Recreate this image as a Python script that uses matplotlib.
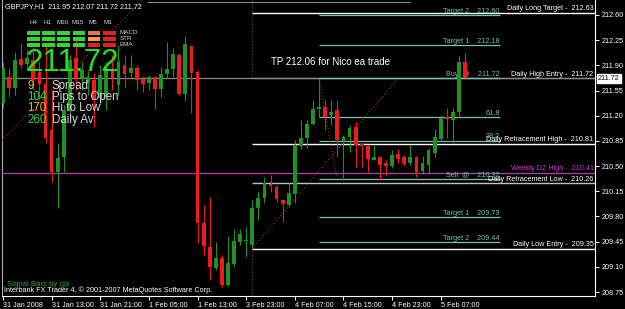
import numpy as np
import matplotlib
matplotlib.use('Agg')
import matplotlib.pyplot as plt
from matplotlib.patches import Rectangle

plt.rcParams['font.family'] = ['Liberation Sans', 'DejaVu Sans']

# Velas H1 de GBPJPY, barra 0 = 31 Jan 05:00
opens = [211.38, 211.74, 211.59, 211.99, 211.92, 211.97, 211.81, 211.64, 211.00, 210.42,
         210.63, 211.28, 212.00, 211.72, 211.65, 211.70, 211.45, 211.46, 211.84, 211.63,
         211.90, 211.79, 211.86, 211.71, 211.65, 211.74, 211.57, 211.78, 211.85, 212.04,
         211.50, 212.17, 211.81, 209.71, 209.38, 209.08, 209.22, 208.85, 209.14, 209.45,
         209.46, 209.40, 209.92, 210.06, 210.25, 210.21, 210.03, 209.96, 210.11, 210.78,
         210.89, 211.08, 211.29, 211.32, 211.21, 211.28, 210.85, 210.90, 211.04, 210.81,
         210.78, 210.58, 210.63, 210.54, 210.50, 210.67, 210.63, 210.54, 210.63, 210.43,
         210.52, 210.68, 210.88, 211.18, 211.14, 211.25, 211.95]
highs = [211.95, 211.86, 212.09, 212.21, 212.11, 212.16, 211.95, 212.18, 211.56, 210.82,
         211.35, 212.04, 212.31, 211.95, 211.84, 211.79, 211.90, 211.95, 212.04, 212.18,
         212.04, 212.04, 211.90, 211.75, 211.77, 211.75, 211.88, 212.22, 212.14, 212.07,
         212.31, 212.18, 211.84, 209.96, 210.07, 209.45, 209.26, 209.53, 209.63, 209.63,
         209.65, 210.03, 210.14, 210.35, 210.38, 210.24, 210.04, 210.27, 210.86, 211.14,
         211.14, 211.42, 211.71, 211.42, 211.42, 211.42, 210.93, 211.07, 211.11, 210.82,
         210.79, 210.79, 210.64, 210.58, 210.72, 210.74, 210.65, 210.79, 210.64, 210.64,
         210.75, 211.02, 211.21, 211.31, 211.31, 212.03, 212.07]
lows = [211.31, 211.46, 211.49, 211.86, 211.84, 211.56, 211.42, 210.82, 210.28, 209.92,
        210.42, 211.17, 211.56, 211.56, 211.49, 211.04, 211.35, 211.28, 211.56, 211.49,
        211.60, 211.74, 211.56, 211.53, 211.56, 211.29, 211.46, 211.72, 211.74, 211.49,
        211.40, 211.24, 209.43, 209.26, 208.92, 209.06, 208.82, 208.83, 209.10, 209.40,
        209.24, 209.35, 209.75, 209.99, 210.14, 210.00, 209.72, 209.93, 209.99, 210.74,
        210.75, 211.07, 211.18, 211.00, 211.07, 210.63, 210.31, 210.70, 210.49, 210.49,
        210.42, 210.58, 210.31, 210.36, 210.47, 210.54, 210.50, 210.52, 210.35, 210.39,
        210.39, 210.63, 210.85, 210.89, 210.82, 211.17, 211.72]
closes = [211.86, 211.59, 211.97, 211.90, 212.00, 211.70, 211.64, 210.89, 210.42, 210.61,
          211.28, 211.97, 211.72, 211.84, 211.74, 211.42, 211.77, 211.84, 211.72, 211.95,
          211.78, 211.86, 211.70, 211.64, 211.74, 211.57, 211.78, 211.85, 212.06, 211.50,
          212.20, 211.79, 209.71, 209.39, 209.10, 209.22, 208.85, 209.15, 209.46, 209.56,
          209.47, 209.92, 210.06, 210.27, 210.22, 210.04, 209.97, 210.13, 210.79, 210.89,
          211.08, 211.29, 211.32, 211.18, 211.25, 210.86, 210.90, 211.03, 210.79, 210.78,
          210.60, 210.63, 210.52, 210.50, 210.65, 210.60, 210.53, 210.63, 210.42, 210.54,
          210.72, 210.90, 211.17, 211.15, 211.25, 211.95, 211.72]

time_ticks = [0, 8, 16, 24, 32, 40, 48, 56, 64, 72]
time_labels = ['31 Jan 2008', '31 Jan 13:00', '31 Jan 21:00', '1 Feb 05:00', '1 Feb 13:00',
               '3 Feb 23:00', '4 Feb 07:00', '4 Feb 15:00', '4 Feb 23:00', '5 Feb 07:00']
price_ticks = [212.60, 212.25, 211.90, 211.55, 211.20, 210.85, 210.50, 210.15,
               209.80, 209.45, 209.10, 208.75]

# Niveles diarios (empiezan en la barra 41 = 4 Feb 00:00)
daily_names = ['Daily Long Target', 'Daily High Entry', 'Daily Retracement High',
               'Weekly DZ High', 'Daily Retracement Low', 'Daily Low Entry']
daily_prices = [212.63, 211.72, 210.81, 210.41, 210.26, 209.35]

# Niveles de la operacion (desde la barra 52)
trade_names = ['Target 2', 'Target 1', 'Buy  @', '61.8', '38.2', 'Sell  @', 'Target 1', 'Target 2']
trade_prices = [212.60, 212.18, 211.72, 211.18, 210.85, 210.32, 209.79, 209.44]

# Lineas de tendencia punteadas (barra, precio)
trend_lines = [((-0.2, 210.86), (23.0, 212.81)),
               ((41.0, 209.35), (64.8, 211.70)),
               ((52.0, 211.71), (54.9, 210.35))]

# Panel Signal Bars
signal_tf = ['H4', 'H1', 'M30', 'M15', 'M5', 'M1']
signal_rows = ['MACD', 'STR', 'EMA']
signal_state = [['up', 'up', 'up', 'up', 'weak', 'down'],
                ['up', 'up', 'up', 'up', 'flat', 'down'],
                ['up', 'up', 'up', 'up', 'down', 'down']]
info_values = [9, 104, 170, 260]
info_names = ['Spread', 'Pips to Open', 'Hi to Low', 'Daily Av']

GREEN = '#1f921f'
RED = '#ee1c1c'
TEAL = '#74c2b2'
DOTS = '#9a3b3b'
state_col = {'up': '#33d633', 'weak': '#e2705c', 'flat': '#eea52c', 'down': '#e22222'}
FS = 5.2

fig = plt.figure(figsize=(6.25, 3.09), dpi=100, facecolor='black')
ax = fig.add_axes([2 / 625, 13 / 309, 593 / 625, 296 / 309], facecolor='black')
x0, x1 = -0.16, 97.37
y0, y1 = 208.695, 212.808
ax.set_xlim(x0, x1)
ax.set_ylim(y0, y1)

o, h, l, c = map(np.array, (opens, highs, lows, closes))
x = np.arange(len(o))
col = np.where(c >= o, GREEN, RED)

# velas
ax.vlines(x, l, h, colors=col, lw=0.8, zorder=5)
ax.bar(x, np.maximum(np.abs(c - o), 0.012), bottom=np.minimum(o, c), width=0.62,
       color=col, linewidth=0, zorder=6)

# linea gris superior y separador vertical punteado
ax.hlines(212.78, 23.7, 67, color='#8a8a8a', lw=0.8, zorder=2)
ax.vlines(41, 211.72, y1, color=DOTS, lw=0.8, linestyle=(0, (1, 2)), zorder=2)
ax.vlines(41, y0, 209.35, color=DOTS, lw=0.8, linestyle=(0, (1, 2)), zorder=2)
for (xa, ya), (xb, yb) in trend_lines:
    ax.plot([xa, xb], [ya, yb], color=DOTS, lw=0.8, linestyle=(0, (1, 2)), zorder=4)

# niveles diarios
line_cols = ['white', '#8a8a8a', 'white', '#a040a0', '#c0c0c0', 'white']
for name, p, lc in zip(daily_names, daily_prices, line_cols):
    if name == 'Weekly DZ High':
        ax.axhline(p, color=lc, lw=1.0, zorder=3)
        tc = '#c83cc8'
    else:
        ax.hlines(p, 41, x1, color=lc, lw=1.0, zorder=3)
        tc = 'white'
    ax.annotate(f'{name} -  {p:.2f}', (x1, p), xytext=(-1, 0.3), textcoords='offset points',
                ha='right', va='bottom', color=tc, fontsize=FS, zorder=4)

# linea Bid
ax.axhline(closes[-1], color='#8a8a8a', lw=0.9, zorder=3)

# niveles de la operacion
xr = 81.7
for name, p in zip(trade_names, trade_prices):
    ax.hlines(p, 52, xr, color=TEAL, lw=0.9, zorder=3)
    lab = name if name in ('61.8', '38.2') else f'{name}    {p:.2f}'
    ax.annotate(lab, (xr, p), xytext=(0, 0.3), textcoords='offset points',
                ha='right', va='bottom', color=TEAL, fontsize=FS, zorder=4)

ax.text(44.1, 211.95, 'TP 212.06 for Nico ea trade', color='white', fontsize=7,
        ha='left', va='center', zorder=4)

# ejes
ax.yaxis.tick_right()
ax.set_yticks(price_ticks)
ax.set_yticklabels([f'{p:.2f}' for p in price_ticks])
ax.tick_params(axis='y', colors='white', length=3, width=0.7, pad=1.5, labelsize=FS)
ax.set_xticks(time_ticks)
ax.set_xticklabels(time_labels, ha='left')
ax.tick_params(axis='x', colors='white', length=3, width=0.7, pad=1, labelsize=FS)
for s in ('left', 'bottom', 'right'):
    ax.spines[s].set_color('white')
    ax.spines[s].set_linewidth(0.8)
ax.spines['left'].set_color('#b0b0b0')
ax.spines['top'].set_visible(False)

ax.annotate(f'{closes[-1]:.2f}', (1, closes[-1]), xycoords=('axes fraction', 'data'),
            xytext=(2.2, 0), textcoords='offset points', ha='left', va='center',
            color='black', fontsize=FS, annotation_clip=False, zorder=20,
            bbox=dict(boxstyle='square,pad=0.12', fc='white', ec='white'))

# capa de texto del indicador (coordenadas en pixeles)
hud = fig.add_axes([0, 0, 1, 1], zorder=10)
hud.set_xlim(0, 625)
hud.set_ylim(309, 0)
hud.axis('off')
hud.patch.set_alpha(0)

hud.text(5, 7, f'GBPJPY,H1  {opens[-1]:.2f} {highs[-1]:.2f} {lows[-1]:.2f} {closes[-1]:.2f}',
         color='white', fontsize=FS, va='center')
for j, tf in enumerate(signal_tf):
    cx = 33 + 15 * j
    hud.text(cx, 22, tf, color='#d8d8d8', fontsize=4.5, ha='center', va='center')
    for r in range(len(signal_rows)):
        hud.add_patch(Rectangle((27 + 15.2 * j, 31 + 6 * r), 12.5, 4,
                                color=state_col[signal_state[r][j]], lw=0))
for r, name in enumerate(signal_rows):
    hud.text(120, 33 + 6 * r, name, color='#d8d8d8', fontsize=4.5, va='center')

hud.text(25.5, 63, f'{closes[-1]:.2f}', color='#22e022', fontsize=22.5, va='center')
num_cols = ['#f0b834', '#33d633', '#f0b834', '#33d633']
for k, (v, name) in enumerate(zip(info_values, info_names)):
    yy = 86 + 11.2 * k
    hud.text(27, yy, str(v), color=num_cols[k], fontsize=8.3, va='center')
    hud.text(52, yy, name, color='#d8d8d8', fontsize=8.3, va='center')

hud.text(7, 284, 'Signal Bars by cja', color='#33aa33', fontsize=5.6, va='center')
hud.text(4, 290.5, 'Interbank FX Trader 4, \u00a9 2001-2007 MetaQuotes Software Corp.',
         color='white', fontsize=FS, va='center')

fig.savefig('out.png', dpi=100, facecolor='black')
